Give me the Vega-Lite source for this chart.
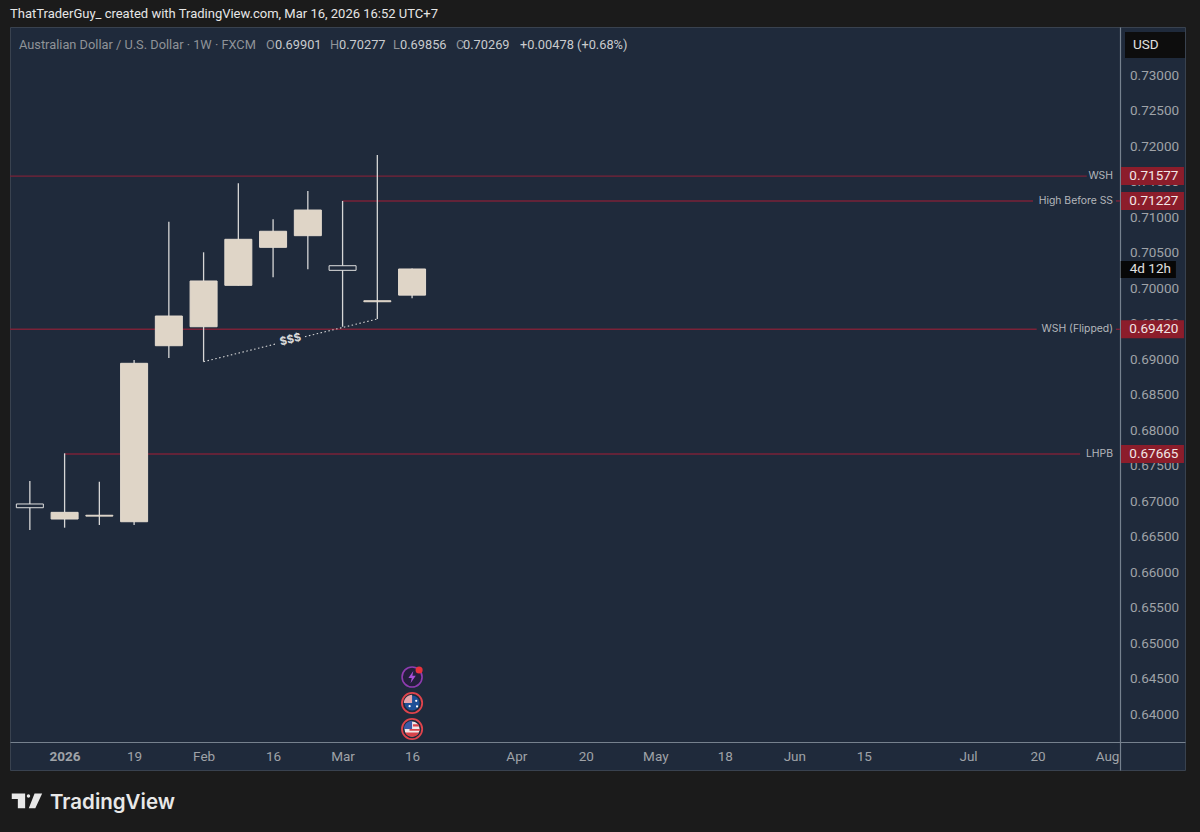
{"$schema":"https://vega.github.io/schema/vega-lite/v6.json","width":1175,"height":743,"autosize":{"type":"none"},"padding":{"left":10,"top":27,"right":15,"bottom":62},"background":"#1b1b1b","view":{"fill":"#1f2a3b","stroke":"#39424f"},
"datasets":{"candles":[
{"date":"2025-12-29","open":0.66961,"high":0.67284,"low":0.66594,"close":0.66908,"dir":"down"},
{"date":"2026-01-05","open":0.66749,"high":0.67674,"low":0.66627,"close":0.66843,"dir":"up"},
{"date":"2026-01-12","open":0.66790,"high":0.67274,"low":0.66665,"close":0.66802,"dir":"up"},
{"date":"2026-01-19","open":0.66711,"high":0.68988,"low":0.66665,"close":0.68941,"dir":"up"},
{"date":"2026-01-26","open":0.69189,"high":0.70935,"low":0.69016,"close":0.69607,"dir":"up"},
{"date":"2026-02-02","open":0.69456,"high":0.70504,"low":0.68964,"close":0.70100,"dir":"up"},
{"date":"2026-02-09","open":0.70039,"high":0.71475,"low":0.70035,"close":0.70687,"dir":"up"},
{"date":"2026-02-16","open":0.70574,"high":0.70968,"low":0.70152,"close":0.70800,"dir":"up"},
{"date":"2026-02-23","open":0.70738,"high":0.71367,"low":0.70265,"close":0.71099,"dir":"up"},
{"date":"2026-03-02","open":0.70315,"high":0.71227,"low":0.69456,"close":0.70250,"dir":"down"},
{"date":"2026-03-09","open":0.69808,"high":0.71874,"low":0.69565,"close":0.69822,"dir":"up"},
{"date":"2026-03-16","open":0.69901,"high":0.70277,"low":0.69856,"close":0.70269,"dir":"up"}]},
"encoding":{
"x":{"field":"date","type":"temporal","title":"TradingView","scale":{"type":"utc","nice":false,"padding":0,"domain":["2025-12-25T00:00:00Z","2026-08-18T17:00:00Z"]},"axis":{"orient":"bottom","offset":-28,"grid":false,"ticks":false,"domainColor":"#76818e","domainWidth":1.2,"labelColor":"#9fa3a8","labelFont":"Roboto","labelFontSize":13.5,"labelPadding":7,"labelFlush":false,"labelOverlap":false,"labelBound":false,
"values":["2026-01-05T00:00:00Z","2026-01-19T00:00:00Z","2026-02-02T00:00:00Z","2026-02-16T00:00:00Z","2026-03-02T00:00:00Z","2026-03-16T00:00:00Z","2026-04-06T00:00:00Z","2026-04-20T00:00:00Z","2026-05-04T00:00:00Z","2026-05-18T00:00:00Z","2026-06-01T00:00:00Z","2026-06-15T00:00:00Z","2026-07-06T00:00:00Z","2026-07-20T00:00:00Z","2026-08-03T00:00:00Z"],
"labelExpr":"utcdate(datum.value)>=15 ? utcFormat(datum.value,'%-d') : (utcmonth(datum.value)==0 ? '2026' : utcFormat(datum.value,'%b'))",
"labelFontWeight":{"condition":{"test":"utcmonth(datum.value)==0 && utcdate(datum.value)<15","value":"bold"},"value":"normal"},
"titleX":39.5,"titleY":66,"titleAlign":"left","titleFont":"Inter","titleFontSize":20.5,"titleFontWeight":600,"titleColor":"#e8e8e8","titleBaseline":"alphabetic"}},
"y":{"field":"price","type":"quantitative","title":null,"scale":{"domain":[0.632158,0.736758],"nice":false,"zero":false,"padding":0},"axis":{"orient":"right","offset":-65,"grid":false,"ticks":false,"domainColor":"#76818e","domainWidth":1.2,"labelColor":"#9fa3a8","labelFont":"Roboto","labelFontSize":13.5,"labelPadding":9.5,"format":".5f","labelOverlap":false,"labelBound":false,"labelFlush":false,"values":[0.64,0.645,0.65,0.655,0.66,0.665,0.67,0.675,0.68,0.685,0.69,0.695,0.70,0.705,0.71,0.715,0.72,0.725,0.73]}}},
"layer":[
{"data":{"values":[
{"date":"2025-12-25T00:00:00Z","date2":"2026-07-29T22:00:00Z","price":0.71577},
{"date":"2026-03-02","date2":"2026-07-19T02:00:00Z","price":0.71227},
{"date":"2025-12-25T00:00:00Z","date2":"2026-07-19T20:00:00Z","price":0.6942},
{"date":"2026-01-05","date2":"2026-07-28T14:00:00Z","price":0.67665},
{"date":"2026-08-04T19:00:00Z","date2":"2026-08-05T15:00:00Z","price":0.71227},
{"date":"2026-08-04T19:00:00Z","date2":"2026-08-05T15:00:00Z","price":0.6942}]},
"mark":{"type":"rule","color":"#7a2238","strokeWidth":1.4},"encoding":{"x2":{"field":"date2"}}},
{"data":{"values":[
{"seg":"a","date":"2026-02-02","price":0.68964},
{"seg":"a","date":"2026-02-16T19:00:00Z","price":0.69218},
{"seg":"b","date":"2026-02-22T10:20:00Z","price":0.69316},
{"seg":"b","date":"2026-03-09","price":0.69565}]},
"mark":{"type":"line","color":"#d8d8d8","strokeWidth":1.1,"strokeDash":[1.5,2.5]},"encoding":{"detail":{"field":"seg"}}},
{"data":{"name":"candles"},"mark":{"type":"rule","color":"#d6d6d6","strokeWidth":1.3},"encoding":{"y":{"field":"high","type":"quantitative","scale":{"domain":[0.632158,0.736758],"nice":false,"zero":false,"padding":0}},"y2":{"field":"low"}}},
{"data":{"name":"candles"},"mark":{"type":"bar","size":27,"strokeWidth":1,"opacity":1},"encoding":{"y":{"field":"open","type":"quantitative","scale":{"domain":[0.632158,0.736758],"nice":false,"zero":false,"padding":0}},"y2":{"field":"close"},"fill":{"field":"dir","type":"nominal","scale":{"domain":["up","down"],"range":["#dfd5c7","#1f2a3b"]},"legend":null},"stroke":{"field":"dir","type":"nominal","scale":{"domain":["up","down"],"range":["#e4dbcf","#e0e0e0"]},"legend":null}}},
{"data":{"values":[{"date":"2026-02-19T12:00:00Z","price":0.69269,"label":"$$$"}]},"mark":{"type":"text","font":"Inter","fontSize":11,"fontWeight":"bold","color":"#d8d8d8","angle":346,"align":"center","baseline":"middle"},"encoding":{"text":{"field":"label"}}},
{"data":{"values":[
{"date":"2026-08-04T05:00:00Z","price":0.71577,"label":"WSH"},
{"date":"2026-08-04T05:00:00Z","price":0.71227,"label":"High Before SS"},
{"date":"2026-08-04T05:00:00Z","price":0.6942,"label":"WSH (Flipped)"},
{"date":"2026-08-04T05:00:00Z","price":0.67665,"label":"LHPB"}]},
"mark":{"type":"text","font":"Inter","fontSize":10.4,"color":"#b4b7bb","align":"right","baseline":"middle"},"encoding":{"text":{"field":"label"}}},
{"data":{"values":[
{"date":"2026-08-05T19:40:00Z","date2":"2026-08-18T12:00:00Z","price":0.71577},
{"date":"2026-08-05T19:40:00Z","date2":"2026-08-18T12:00:00Z","price":0.71227},
{"date":"2026-08-05T19:40:00Z","date2":"2026-08-18T12:00:00Z","price":0.6942},
{"date":"2026-08-05T19:40:00Z","date2":"2026-08-18T12:00:00Z","price":0.67665}]},
"mark":{"type":"bar","orient":"horizontal","size":18,"color":"#8c1d2b"},"encoding":{"x2":{"field":"date2"}}},
{"data":{"values":[
{"date":"2026-08-07T12:00:00Z","price":0.71577,"label":"0.71577"},
{"date":"2026-08-07T12:00:00Z","price":0.71227,"label":"0.71227"},
{"date":"2026-08-07T12:00:00Z","price":0.6942,"label":"0.69420"},
{"date":"2026-08-07T12:00:00Z","price":0.67665,"label":"0.67665"}]},
"mark":{"type":"text","font":"Roboto","fontSize":13.5,"color":"#f2e6e6","align":"left","baseline":"middle"},"encoding":{"text":{"field":"label"}}},
{"data":{"values":[
{"date":"2026-08-06T15:00:00Z","date2":"2026-08-18T17:00:00Z","price":0.73422}]},"mark":{"type":"bar","orient":"horizontal","size":26,"color":"#0d0d0d"},"encoding":{"x2":{"field":"date2"}}},
{"data":{"values":[
{"date":"2026-08-05T18:00:00Z","date2":"2026-08-16T21:00:00Z","price":0.70263}]},"mark":{"type":"bar","orient":"horizontal","size":17,"color":"#070707"},"encoding":{"x2":{"field":"date2"}}},
{"data":{"values":[
{"date":"2026-08-08T05:00:00Z","price":0.73422,"label":"USD"},
{"date":"2026-08-07T14:00:00Z","price":0.70263,"label":"4d 12h"}]},"mark":{"type":"text","font":"Roboto","fontSize":13.5,"color":"#e0e0e0","align":"left","baseline":"middle"},"encoding":{"text":{"field":"label"}}},
{"data":{"values":[{"date":"2025-12-25T00:00:00Z","price":0.73859,"label":"ThatTraderGuy_ created with TradingView.com, Mar 16, 2026 16:52 UTC+7"}]},"mark":{"type":"text","font":"Roboto","fontSize":13,"color":"#e6e6e6","align":"left","baseline":"middle","clip":false},"encoding":{"text":{"field":"label"}}},
{"data":{"values":[
{"date":"2025-12-26T19:30:00Z","price":0.73425,"label":"Australian Dollar / U.S. Dollar · 1W · FXCM","tone":"muted"},
{"date":"2026-02-14T13:40:00Z","price":0.73425,"label":"O","tone":"muted"},
{"date":"2026-02-16T09:20:00Z","price":0.73425,"label":"0.69901","tone":"value"},
{"date":"2026-02-27T11:15:00Z","price":0.73425,"label":"H","tone":"muted"},
{"date":"2026-03-01T06:45:00Z","price":0.73425,"label":"0.70277","tone":"value"},
{"date":"2026-03-12T03:50:00Z","price":0.73425,"label":"L","tone":"muted"},
{"date":"2026-03-13T13:40:00Z","price":0.73425,"label":"0.69856","tone":"value"},
{"date":"2026-03-24T20:25:00Z","price":0.73425,"label":"C","tone":"muted"},
{"date":"2026-03-26T06:15:00Z","price":0.73425,"label":"0.70269","tone":"value"},
{"date":"2026-04-06T18:00:00Z","price":0.73425,"label":"+0.00478 (+0.68%)","tone":"value"}]},
"mark":{"type":"text","font":"Roboto","fontSize":12.8,"align":"left","baseline":"middle"},"encoding":{"text":{"field":"label"},"color":{"field":"tone","type":"nominal","scale":{"domain":["muted","value"],"range":["#8f9398","#c9cbce"]},"legend":null}}},
{"data":{"values":[{"date":"2026-03-16","price":0.64525}]},"mark":{"type":"point","shape":"circle","size":400,"filled":true,"fill":"#241f3c","stroke":"#8f3cb0","strokeWidth":1.6,"opacity":1}},
{"data":{"values":[{"date":"2026-03-16","price":0.64525}]},"mark":{"type":"point","shape":"M.2 -1 L-.6 .15 H-.05 L-.25 1 L.6 -.2 H.05 Z","size":150,"filled":true,"fill":"#a64fd6","opacity":1}},
{"data":{"values":[{"date":"2026-03-17T10:00:00Z","price":0.64623}]},"mark":{"type":"point","shape":"circle","size":50,"filled":true,"fill":"#e8323c","opacity":1}},
{"data":{"values":[{"date":"2026-03-16","price":0.64159},{"date":"2026-03-16","price":0.63793}]},"mark":{"type":"point","shape":"circle","size":410,"filled":true,"fill":"#1f2a3b","stroke":"#e0444c","strokeWidth":1.8,"opacity":1}},
{"data":{"values":[{"date":"2026-03-16","price":0.64159}]},"mark":{"type":"point","shape":"circle","size":230,"filled":true,"fill":"#1d4f96","opacity":1}},
{"data":{"values":[{"date":"2026-03-16","price":0.64159}]},"mark":{"type":"point","shape":"M0 0 L-.95 0 A.95 .95 0 0 1 0 -.95 Z","size":300,"filled":true,"fill":"#e6a6ad","opacity":1}},
{"data":{"values":[{"date":"2026-03-16T20:00:00Z","price":0.64190},{"date":"2026-03-17T00:00:00Z","price":0.64110},{"date":"2026-03-15T12:00:00Z","price":0.64115}]},"mark":{"type":"point","shape":"circle","size":5,"filled":true,"fill":"#ffffff","opacity":1}},
{"data":{"values":[{"date":"2026-03-16","price":0.63793}]},"mark":{"type":"point","shape":"circle","size":230,"filled":true,"fill":"#f1e8e8","opacity":1}},
{"data":{"values":[{"date":"2026-03-16","price":0.63793}]},"mark":{"type":"point","shape":"M0 0 L-.95 0 A.95 .95 0 0 1 0 -.95 Z","size":300,"filled":true,"fill":"#3c5aa6","opacity":1}},
{"data":{"values":[{"date":"2026-03-16","price":0.63793}]},"mark":{"type":"point","shape":"M-.82 .4 A.92 .92 0 0 0 .82 .4 Z M-.3 .0 H.92 V.2 H-.3 Z M.1 -.55 H.72 L.85 -.3 H.1 Z","size":300,"filled":true,"fill":"#d9434a","opacity":1}},
{"data":{"values":[{"date":"2025-12-28T10:00:00Z","price":0.62779}]},"mark":{"type":"point","shape":"M-1 -.5 H-.12 V.48 H-.6 V-.13 H-1 Z M-.01 -.33 a.11 .11 0 1 0 .22 0 a.11 .11 0 1 0 -.22 0 Z M.5 -.5 H1 L.55 .48 H.12 Z","size":924,"filled":true,"fill":"#e8e8e8","opacity":1,"clip":false}}
]}
